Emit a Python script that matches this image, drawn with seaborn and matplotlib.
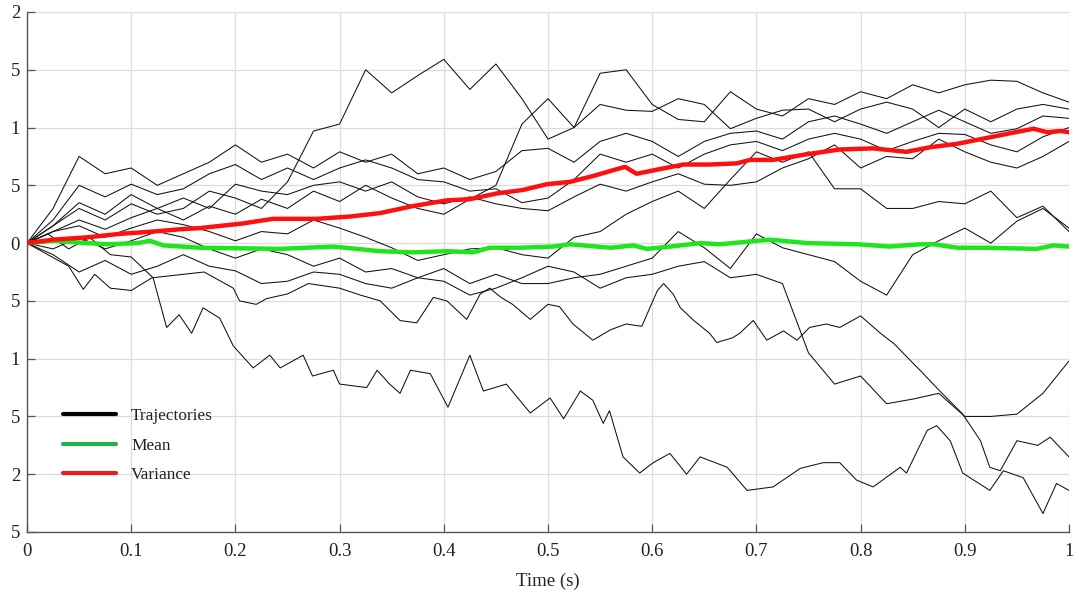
import numpy as np
import pandas as pd
import seaborn as sns
import matplotlib
matplotlib.use("Agg")
import matplotlib.pyplot as plt
from matplotlib.lines import Line2D

# ---------------- data ----------------
t_grid = [round(0.025 * i, 3) for i in range(41)]

traj_U1 = [0, 0.1, 0.2, 0.12, 0.22, 0.3, 0.2, 0.32, 0.25, 0.38, 0.3, 0.45, 0.36, 0.5, 0.39, 0.3, 0.25,
           0.38, 0.5, 1.03, 1.25, 1.0, 1.47, 1.5, 1.2, 1.07, 1.05, 1.31, 1.16, 1.1, 1.25, 1.2, 1.31,
           1.25, 1.37, 1.3, 1.37, 1.41, 1.4, 1.3, 1.22]
traj_U2 = [0, 0.15, 0.3, 0.2, 0.34, 0.25, 0.3, 0.45, 0.39, 0.3, 0.53, 0.97, 1.03, 1.5, 1.3, 1.45, 1.59,
           1.33, 1.55, 1.25, 0.9, 1.0, 1.2, 1.15, 1.14, 1.25, 1.2, 0.99, 1.08, 1.15, 1.16, 1.05, 1.16,
           1.22, 1.16, 1.0, 1.16, 1.05, 1.16, 1.2, 1.16]
traj_U3 = [0, 0.3, 0.75, 0.6, 0.65, 0.5, 0.6, 0.7, 0.85, 0.7, 0.77, 0.65, 0.79, 0.7, 0.77, 0.6, 0.65,
           0.55, 0.62, 0.8, 0.82, 0.7, 0.88, 0.95, 0.88, 0.75, 0.88, 0.95, 0.97, 0.9, 1.05, 1.1, 1.03,
           0.95, 1.05, 1.15, 1.05, 0.95, 0.99, 1.1, 1.08]
traj_U4 = [0, 0.2, 0.5, 0.4, 0.51, 0.42, 0.47, 0.6, 0.68, 0.55, 0.65, 0.55, 0.65, 0.72, 0.65, 0.55, 0.53,
           0.45, 0.47, 0.35, 0.39, 0.55, 0.77, 0.7, 0.77, 0.65, 0.77, 0.85, 0.88, 0.8, 0.9, 0.95, 0.9,
           0.8, 0.88, 0.95, 0.94, 0.85, 0.79, 0.92, 1.0]
traj_U5 = [0, 0.15, 0.35, 0.25, 0.42, 0.3, 0.39, 0.3, 0.51, 0.45, 0.42, 0.5, 0.53, 0.45, 0.53, 0.4, 0.34,
           0.4, 0.34, 0.3, 0.28, 0.4, 0.51, 0.45, 0.53, 0.6, 0.51, 0.5, 0.53, 0.65, 0.73, 0.85, 0.65,
           0.75, 0.73, 0.9, 0.79, 0.7, 0.65, 0.75, 0.88]
traj_M1 = [0, 0.1, 0.15, 0.05, 0.13, 0.2, 0.16, 0.1, 0.02, 0.1, 0.08, 0.2, 0.13, 0.05, -0.04, -0.15, -0.1,
           -0.05, -0.04, -0.1, -0.13, 0.05, 0.1, 0.25, 0.36, 0.45, 0.3, 0.55, 0.79, 0.7, 0.79, 0.47, 0.47,
           0.3, 0.3, 0.36, 0.34, 0.45, 0.22, 0.32, 0.10]
traj_M2 = [0, -0.05, 0.05, -0.05, 0.02, 0.1, 0.05, -0.05, -0.13, -0.05, -0.1, -0.2, -0.13, -0.25, -0.22,
           -0.3, -0.22, -0.35, -0.27, -0.35, -0.35, -0.3, -0.27, -0.2, -0.13, 0.1, -0.04, -0.22, 0.08,
           -0.04, -0.1, -0.16, -0.33, -0.45, -0.1, 0.02, 0.13, 0.0, 0.19, 0.3, 0.13]
traj_L3 = [0, -0.1, -0.25, -0.15, -0.27, -0.2, -0.1, -0.2, -0.24, -0.35, -0.33, -0.25, -0.27, -0.35, -0.39,
           -0.3, -0.33, -0.45, -0.39, -0.3, -0.2, -0.25, -0.39, -0.3, -0.27, -0.2, -0.16, -0.3, -0.27,
           -0.35, -0.95, -1.22, -1.15, -1.39, -1.35, -1.3, -1.5, -1.5, -1.48, -1.3, -1.02]

traj_L2_t = [0, 0.02, 0.04, 0.054, 0.065, 0.08, 0.1, 0.12, 0.15, 0.17, 0.198, 0.204, 0.22, 0.23, 0.25,
             0.27, 0.3, 0.32, 0.339, 0.358, 0.374, 0.39, 0.403, 0.422, 0.435, 0.444, 0.455, 0.466,
             0.483, 0.5, 0.511, 0.524, 0.543, 0.56, 0.575, 0.59, 0.605, 0.611, 0.62, 0.627, 0.64,
             0.655, 0.662, 0.677, 0.684, 0.697, 0.71, 0.726, 0.739, 0.751, 0.767, 0.78, 0.8, 0.819,
             0.832, 0.845, 0.857, 0.876, 0.898, 0.915, 0.924, 0.934, 0.95, 0.97, 0.982, 1.0]
traj_L2_v = [0, -0.1, -0.2, -0.4, -0.27, -0.39, -0.41, -0.3, -0.27, -0.25, -0.39, -0.5, -0.53, -0.48,
             -0.44, -0.35, -0.39, -0.45, -0.5, -0.67, -0.69, -0.47, -0.5, -0.66, -0.44, -0.39, -0.47,
             -0.53, -0.66, -0.53, -0.55, -0.7, -0.84, -0.75, -0.7, -0.72, -0.41, -0.35, -0.44, -0.56,
             -0.67, -0.78, -0.86, -0.82, -0.78, -0.67, -0.84, -0.76, -0.84, -0.73, -0.7, -0.73, -0.63,
             -0.78, -0.87, -0.99, -1.1, -1.28, -1.48, -1.71, -1.94, -1.97, -1.71, -1.75, -1.68, -1.85]

traj_L1_t = [0, 0.02, 0.04, 0.06, 0.08, 0.1, 0.121, 0.134, 0.146, 0.158, 0.169, 0.185, 0.198, 0.217,
             0.233, 0.243, 0.265, 0.274, 0.294, 0.3, 0.326, 0.336, 0.348, 0.358, 0.368, 0.387, 0.404,
             0.425, 0.438, 0.46, 0.483, 0.502, 0.515, 0.531, 0.543, 0.553, 0.559, 0.572, 0.588, 0.601,
             0.617, 0.633, 0.646, 0.672, 0.691, 0.716, 0.742, 0.764, 0.78, 0.796, 0.812, 0.838, 0.844,
             0.864, 0.873, 0.886, 0.898, 0.924, 0.937, 0.956, 0.975, 0.988, 1.0]
traj_L1_v = [0, 0.08, -0.05, 0.05, -0.1, -0.12, -0.3, -0.73, -0.62, -0.78, -0.56, -0.65, -0.89, -1.08,
             -0.97, -1.08, -0.97, -1.15, -1.1, -1.22, -1.25, -1.1, -1.22, -1.3, -1.1, -1.13, -1.42,
             -0.97, -1.28, -1.22, -1.47, -1.34, -1.52, -1.28, -1.36, -1.56, -1.45, -1.85, -1.99, -1.9,
             -1.82, -2.0, -1.85, -1.94, -2.14, -2.11, -1.95, -1.9, -1.9, -2.05, -2.11, -1.94, -1.99,
             -1.62, -1.58, -1.71, -1.99, -2.14, -1.97, -2.03, -2.34, -2.08, -2.14]

mean_t = [0, 0.025, 0.058, 0.077, 0.106, 0.118, 0.131, 0.166, 0.243, 0.294, 0.339, 0.37, 0.403, 0.428,
          0.444, 0.473, 0.505, 0.521, 0.56, 0.582, 0.595, 0.617, 0.646, 0.665, 0.713, 0.749, 0.797,
          0.828, 0.857, 0.87, 0.893, 0.921, 0.969, 0.985, 1.0]
mean_v = [0, 0.02, 0, -0.01, 0, 0.02, -0.02, -0.04, -0.05, -0.03, -0.07, -0.08, -0.07, -0.08, -0.04,
          -0.04, -0.03, -0.01, -0.04, -0.02, -0.05, -0.03, 0, -0.01, 0.03, 0, -0.01, -0.03, -0.01,
          -0.01, -0.04, -0.04, -0.05, -0.02, -0.03]

var_t = [0, 0.025, 0.058, 0.089, 0.121, 0.147, 0.166, 0.207, 0.236, 0.278, 0.31, 0.339, 0.37, 0.403,
         0.425, 0.451, 0.476, 0.499, 0.521, 0.543, 0.566, 0.574, 0.585, 0.607, 0.63, 0.655, 0.681,
         0.694, 0.716, 0.749, 0.78, 0.812, 0.844, 0.867, 0.893, 0.921, 0.943, 0.966, 0.979, 0.992, 1.0]
var_v = [0, 0.03, 0.05, 0.08, 0.1, 0.12, 0.13, 0.17, 0.21, 0.21, 0.23, 0.26, 0.32, 0.37, 0.38, 0.43,
         0.46, 0.51, 0.53, 0.58, 0.64, 0.66, 0.6, 0.64, 0.68, 0.68, 0.69, 0.72, 0.72, 0.77, 0.81, 0.82,
         0.79, 0.83, 0.86, 0.91, 0.95, 0.99, 0.96, 0.97, 0.96]

y_ticks = [2, 1.5, 1, 0.5, 0, -0.5, -1, -1.5, -2, -2.5]
y_tick_labels = ["2", "5", "1", "5", "0", "5", "1", "5", "2", "5"]
x_ticks = [0, 0.1, 0.2, 0.3, 0.4, 0.5, 0.6, 0.7, 0.8, 0.9, 1.0]
x_tick_labels = ["0", "0.1", "0.2", "0.3", "0.4", "0.5", "0.6", "0.7", "0.8", "0.9", "1"]
legend_labels = ["Trajectories", "Mean", "Variance"]

# ---------------- build tables ----------------
grid_series = {"U1": traj_U1, "U2": traj_U2, "U3": traj_U3, "U4": traj_U4, "U5": traj_U5,
               "M1": traj_M1, "M2": traj_M2, "L3": traj_L3}
rows = []
for name, vals in grid_series.items():
    for tt, vv in zip(t_grid, vals):
        rows.append((name, tt, vv))
for name, ts, vs in [("L2", traj_L2_t, traj_L2_v), ("L1", traj_L1_t, traj_L1_v)]:
    for tt, vv in zip(ts, vs):
        rows.append((name, tt, vv))
df_traj = pd.DataFrame(rows, columns=["traj", "t", "v"])
df_mean = pd.DataFrame({"t": mean_t, "v": mean_v})
df_var = pd.DataFrame({"t": var_t, "v": var_v})

# ---------------- plot ----------------
sns.set_theme(style="whitegrid")
plt.rcParams["font.family"] = ["Liberation Serif", "DejaVu Serif"]

fig = plt.figure(figsize=(10.79, 6.0), dpi=100)
ax = fig.add_axes([27 / 1079, 1 - 532 / 600, (1069 - 27) / 1079, (532 - 12) / 600])
ax.set_facecolor("white")

sns.lineplot(data=df_traj, x="t", y="v", units="traj", estimator=None, color="#111111",
             linewidth=0.75, ax=ax, legend=False, zorder=2)
sns.lineplot(data=df_mean, x="t", y="v", color="#1fe51f", linewidth=3.2, ax=ax,
             legend=False, zorder=3)
sns.lineplot(data=df_var, x="t", y="v", color="#ff1010", linewidth=3.2, ax=ax,
             legend=False, zorder=4)

ax.set_xlim(0, 1)
ax.set_ylim(-2.5, 2)
ax.set_xticks(x_ticks)
ax.set_xticklabels(x_tick_labels)
ax.set_yticks(y_ticks)
ax.set_yticklabels(y_tick_labels)
ax.grid(True, color="#dcdcdc", linewidth=0.9)
ax.tick_params(axis="both", direction="in", length=6, width=0.9, color="#555555",
               labelsize=13.5, labelcolor="#222222")
ax.tick_params(axis="x", pad=8)
ax.tick_params(axis="y", pad=5)
ax.tick_params(top=False, right=False)
ax.xaxis.set_ticks_position("bottom")
ax.yaxis.set_ticks_position("left")
for side in ["top", "right"]:
    ax.spines[side].set_visible(False)
for side in ["left", "bottom"]:
    ax.spines[side].set_color("#555555")
    ax.spines[side].set_linewidth(1.0)
ax.set_xlabel("Time (s)", fontsize=13.5, color="#222222", labelpad=9)
ax.set_ylabel("")

handles = [Line2D([0], [0], color="black", lw=3),
           Line2D([0], [0], color="#22b14c", lw=3),
           Line2D([0], [0], color="#ed1c24", lw=3)]
leg = ax.legend(handles, legend_labels, loc="upper left", bbox_to_anchor=(0.0345, 0.238),
                frameon=False, fontsize=12.4, handlelength=3.1, handletextpad=0.85,
                labelspacing=0.78, borderaxespad=0, borderpad=0)
for txt in leg.get_texts():
    txt.set_color("#222222")

fig.savefig("out.png", dpi=100, facecolor="white")
